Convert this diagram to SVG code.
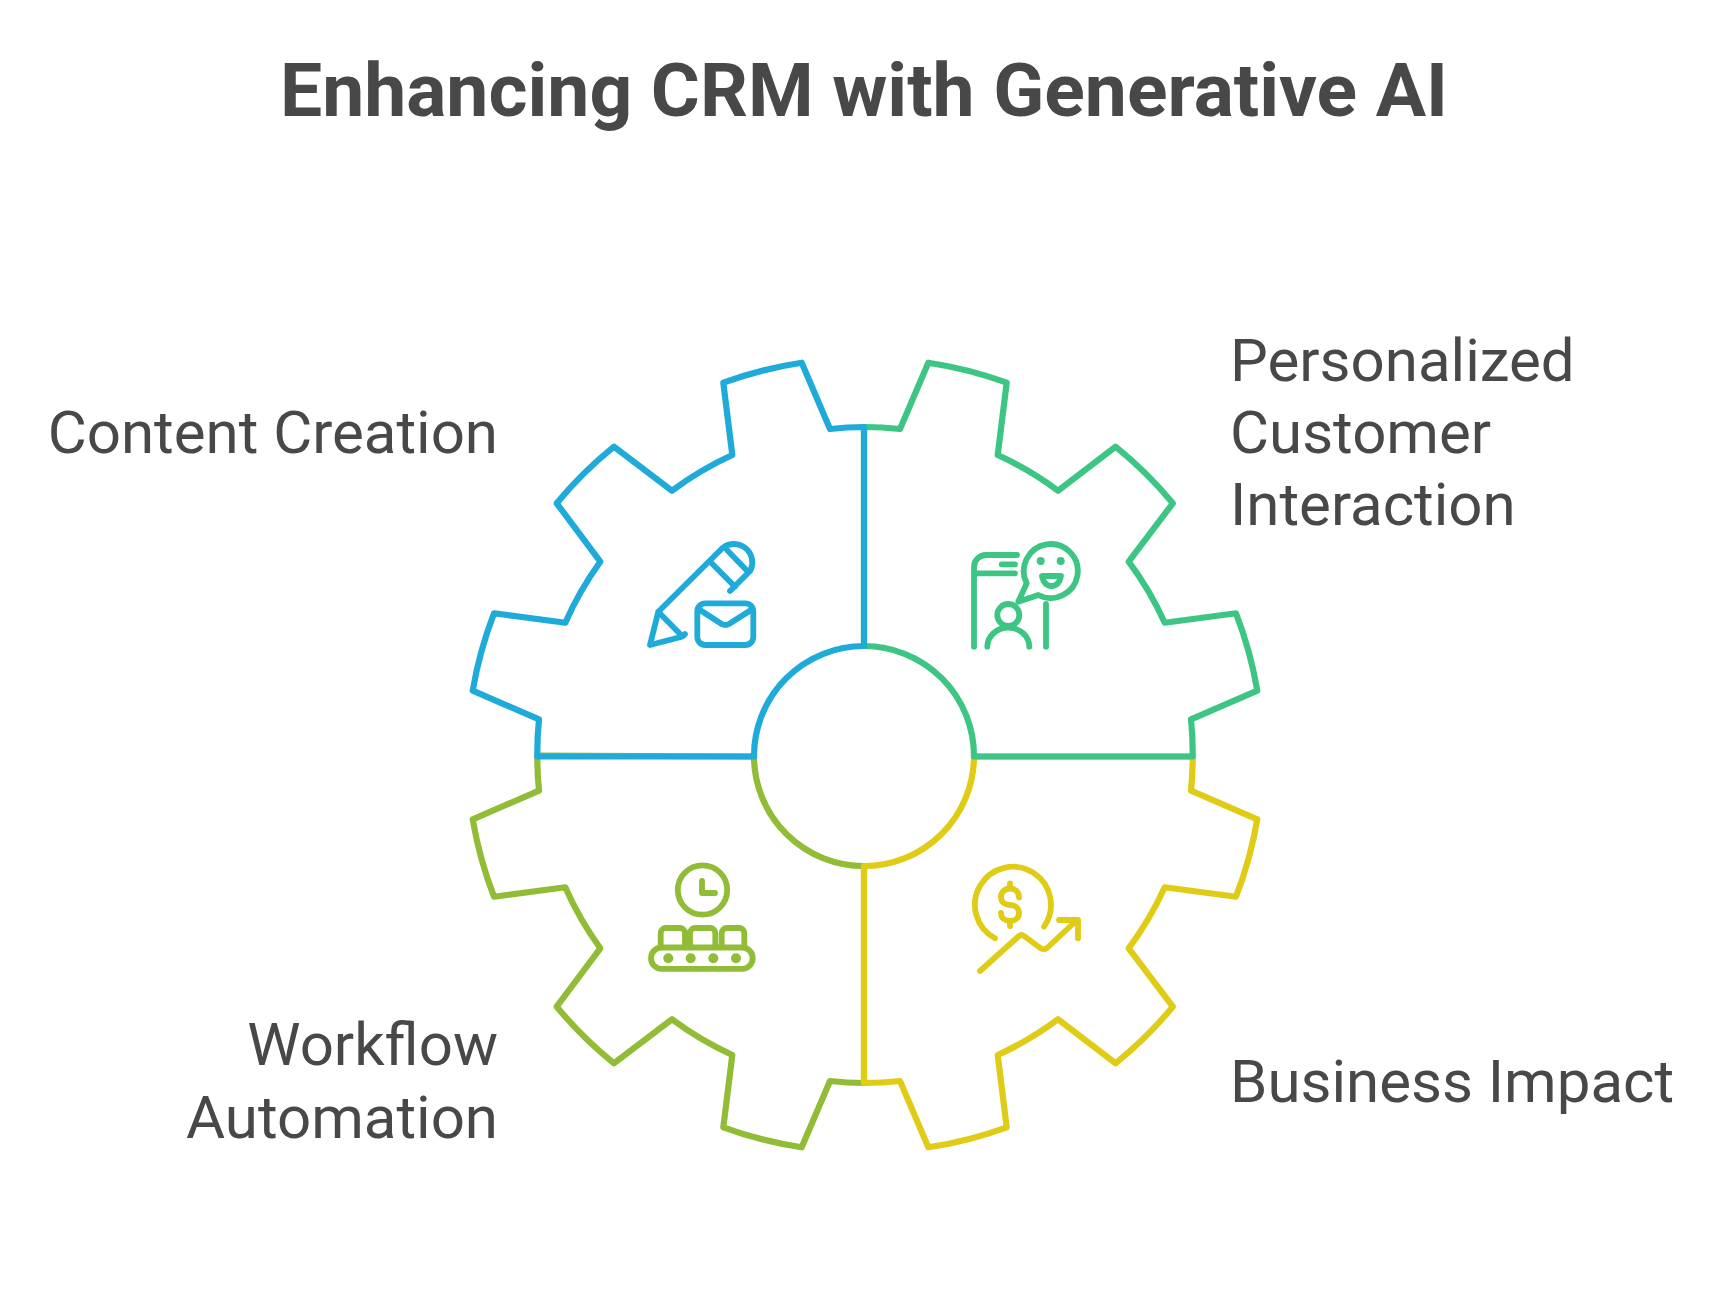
<svg xmlns="http://www.w3.org/2000/svg" width="1728" height="1290" viewBox="0 0 1728 1290">
<style>
text{font-family:Roboto,"Liberation Sans",sans-serif;fill:#484848}
.t{font-size:75px;font-weight:700;text-anchor:middle}
.l{font-size:60px}
.e{text-anchor:end}
.s{fill:none;stroke-width:6.2;stroke-linecap:round;stroke-linejoin:round}
.i{fill:none;stroke-width:5.8;stroke-linecap:round;stroke-linejoin:round}
.b{stroke:#1eabda}.g{stroke:#3cc583}.o{stroke:#90bc36}.y{stroke:#e0cb15}
</style>
<rect width="1728" height="1290" fill="#fff"/>
<text id="title" class="t" x="864" y="116">Enhancing CRM with Generative AI</text>
<g id="gear" transform="translate(864 756)">
<g id="segment-workflow"><path class="s o" d="M0 327A329 329 0 0 1 -34 325L-62.300 391.300A398 398 0 0 1 -140.700 371.300L-131.700 299A329 329 0 0 1 -192 263.300L-250 307.300A398 398 0 0 1 -307.300 250.700L-263.700 192.300A329 329 0 0 1 -298.700 131.300L-370 140.700A398 398 0 0 1 -391.300 63.300L-325 34.700A329 329 0 0 1 -326.700 -0.500L-110 0.500A110 110 0 0 0 0 110Z"/></g>
<g id="segment-business"><path class="s y" d="M0 327A329 329 0 0 0 36 325L64.300 391.300A398 398 0 0 0 142.700 371.300L133.700 299A329 329 0 0 0 194 263.300L251.500 307.300A398 398 0 0 0 308.800 250.700L264.700 192.300A329 329 0 0 0 300.700 131.300L372 140.700A398 398 0 0 0 393.300 63.300L327 34.700A329 329 0 0 0 328.700 0.500L110 0.500A110 110 0 0 1 0 110Z"/></g>
<g id="segment-personalized"><path class="s g" d="M0 -329A329 329 0 0 1 36 -327L64.300 -393.300A398 398 0 0 1 142.700 -373.300L133.700 -301A329 329 0 0 1 194 -265.300L251.500 -309.300A398 398 0 0 1 308.800 -252.700L264.700 -194.300A329 329 0 0 1 300.700 -133.300L372 -142.700A398 398 0 0 1 393.300 -65.300L327 -36.700A329 329 0 0 1 328.700 0.500L110 0.500A110 110 0 0 0 0 -110Z"/></g>
<g id="segment-content"><path class="s b" d="M0 -329A329 329 0 0 0 -34 -327L-62.300 -393.300A398 398 0 0 0 -140.700 -373.300L-131.700 -301A329 329 0 0 0 -192 -265.300L-250 -309.300A398 398 0 0 0 -307.300 -252.700L-263.700 -194.300A329 329 0 0 0 -298.700 -133.300L-370 -142.700A398 398 0 0 0 -391.300 -65.300L-325 -36.700A329 329 0 0 0 -326.700 0.500L-110 0.500A110 110 0 0 1 0 -110Z"/></g>
</g>
<g id="icon-content" class="i b">
<path d="M730 591L750.500 570.500A18.500 18.500 0 0 0 723 547.500L658.300 611.700L650 645L681.700 636.700Q683.500 636 685 634M658.300 611.700L682 636M711.700 563.300L735 586.700M727 550L748 571.700"/>
<rect x="697.300" y="603.300" width="56" height="41.700" rx="8"/>
<path d="M700 610L721.700 624Q725.300 626 729 624L751 610"/>
</g>
<g id="icon-personalized" class="i g">
<path d="M974 646.700V567A12 12 0 0 1 986 555H1017M976 573.300H1015M1001.700 564.300H1015M1046 604V646.700"/>
<circle cx="1008.300" cy="615" r="11"/>
<path d="M987.300 646.700A21 19 0 0 1 1029.300 646.700"/>
<path d="M1038.300 595A27 27 0 1 0 1026.700 583.300L1018.300 601.700Z"/>
<circle cx="1040.700" cy="561" r="4" fill="#3cc583" stroke="none"/>
<circle cx="1060.700" cy="561" r="4" fill="#3cc583" stroke="none"/>
<path d="M1042 576H1061Q1059 586 1051.500 586Q1044 586 1042 576Z"/>
</g>
<g id="icon-workflow" class="i o">
<circle cx="702.500" cy="890" r="24.700"/>
<path d="M702 881V893H715"/>
<path d="M660.700 946.500V933A5 5 0 0 1 665.700 928H680A5 5 0 0 1 685 933V946.500M690 946.500V933A5 5 0 0 1 695 928H710.300A5 5 0 0 1 715.300 933V946.500M721.700 946.500V933A5 5 0 0 1 726.700 928H739.300A5 5 0 0 1 744.300 933V946.500"/>
<rect x="651" y="947.500" width="101.700" height="21.300" rx="10.650"/>
<g fill="#90bc36" stroke="none"><circle cx="668.300" cy="958.200" r="5"/><circle cx="690.700" cy="958.200" r="5"/><circle cx="713.300" cy="958.200" r="5"/><circle cx="736" cy="958.200" r="5"/></g>
</g>
<g id="icon-business" class="i y">
<path d="M995 938.300A38 38 0 1 1 1044 926.700"/>
<path d="M1019 897.500C1019 892 1015 888.500 1010 888.500C1005 888.500 1001 892 1001 897C1001 902 1005 905 1010 905C1015 905 1019 908 1019 913C1019 918 1015 921 1010 921C1005 921 1001 918 1001 913M1010 883.500V888.500M1010 921V926"/>
<path d="M980 971L1019 936Q1021.500 934 1024 936L1041 948.500Q1044 950 1047 948L1077 920M1059 920H1078V938.300"/>
</g>
<g id="labels">
<text id="label-content" class="l e" x="498" y="453">Content Creation</text>
<text id="label-personalized" class="l" x="1230"><tspan x="1230" y="381">Personalized</tspan><tspan x="1230" y="453">Customer</tspan><tspan x="1230" y="525">Interaction</tspan></text>
<text id="label-workflow" class="l e"><tspan x="498" y="1065">Workflow</tspan><tspan x="498" y="1138">Automation</tspan></text>
<text id="label-business" class="l" x="1230" y="1102">Business Impact</text>
</g>
</svg>
